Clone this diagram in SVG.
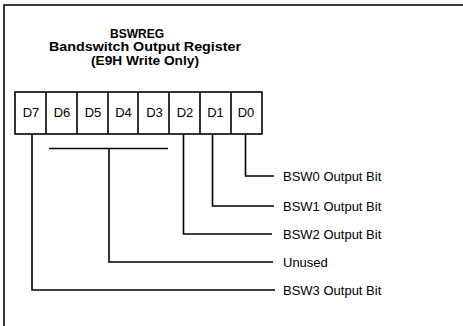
<svg xmlns="http://www.w3.org/2000/svg" width="463" height="326" viewBox="0 0 463 326">
<style>
.ln{fill:none;stroke:#000;stroke-width:1.6}
.t{font-family:"Liberation Sans",Arial,sans-serif;font-size:13px;fill:#000}
.b{font-family:"Liberation Sans",Arial,sans-serif;font-size:12px;font-weight:bold;fill:#000;text-anchor:middle}
.c{text-anchor:middle}
</style>
<rect width="463" height="326" fill="#fff"/>
<g id="frame"><path class="ln" d="M4,326 V5 H463"/></g>
<g id="title">
<text class="b" x="137" y="37.5">BSWREG</text>
<text class="b" x="145" y="51" textLength="192" lengthAdjust="spacingAndGlyphs">Bandswitch Output Register</text>
<text class="b" x="145" y="64.5" textLength="108" lengthAdjust="spacingAndGlyphs">(E9H Write Only)</text>
</g>
<g id="register">
<rect class="ln" x="15" y="92" width="247" height="42"/>
<path class="ln" d="M46,92V134M77,92V134M108,92V134M138,92V134M169,92V134M200,92V134M231,92V134"/>
<text class="t c" x="31" y="117">D7</text>
<text class="t c" x="62" y="117">D6</text>
<text class="t c" x="93" y="117">D5</text>
<text class="t c" x="123.5" y="117">D4</text>
<text class="t c" x="154.5" y="117">D3</text>
<text class="t c" x="185" y="117">D2</text>
<text class="t c" x="215.5" y="117">D1</text>
<text class="t c" x="246" y="117">D0</text>
</g>
<g id="connectors">
<path class="ln" d="M245.5,134V176H274"/>
<path class="ln" d="M212.5,134V206H274"/>
<path class="ln" d="M183.5,134V234H272"/>
<path class="ln" d="M49,148.5H168M109,148.5V262H273"/>
<path class="ln" d="M32,134V290H275"/>
</g>
<g id="labels">
<text class="t" x="283" y="180.5">BSW0 Output Bit</text>
<text class="t" x="283" y="210.5">BSW1 Output Bit</text>
<text class="t" x="283" y="238.5">BSW2 Output Bit</text>
<text class="t" x="283" y="266.5">Unused</text>
<text class="t" x="283" y="294.5">BSW3 Output Bit</text>
</g>
</svg>
